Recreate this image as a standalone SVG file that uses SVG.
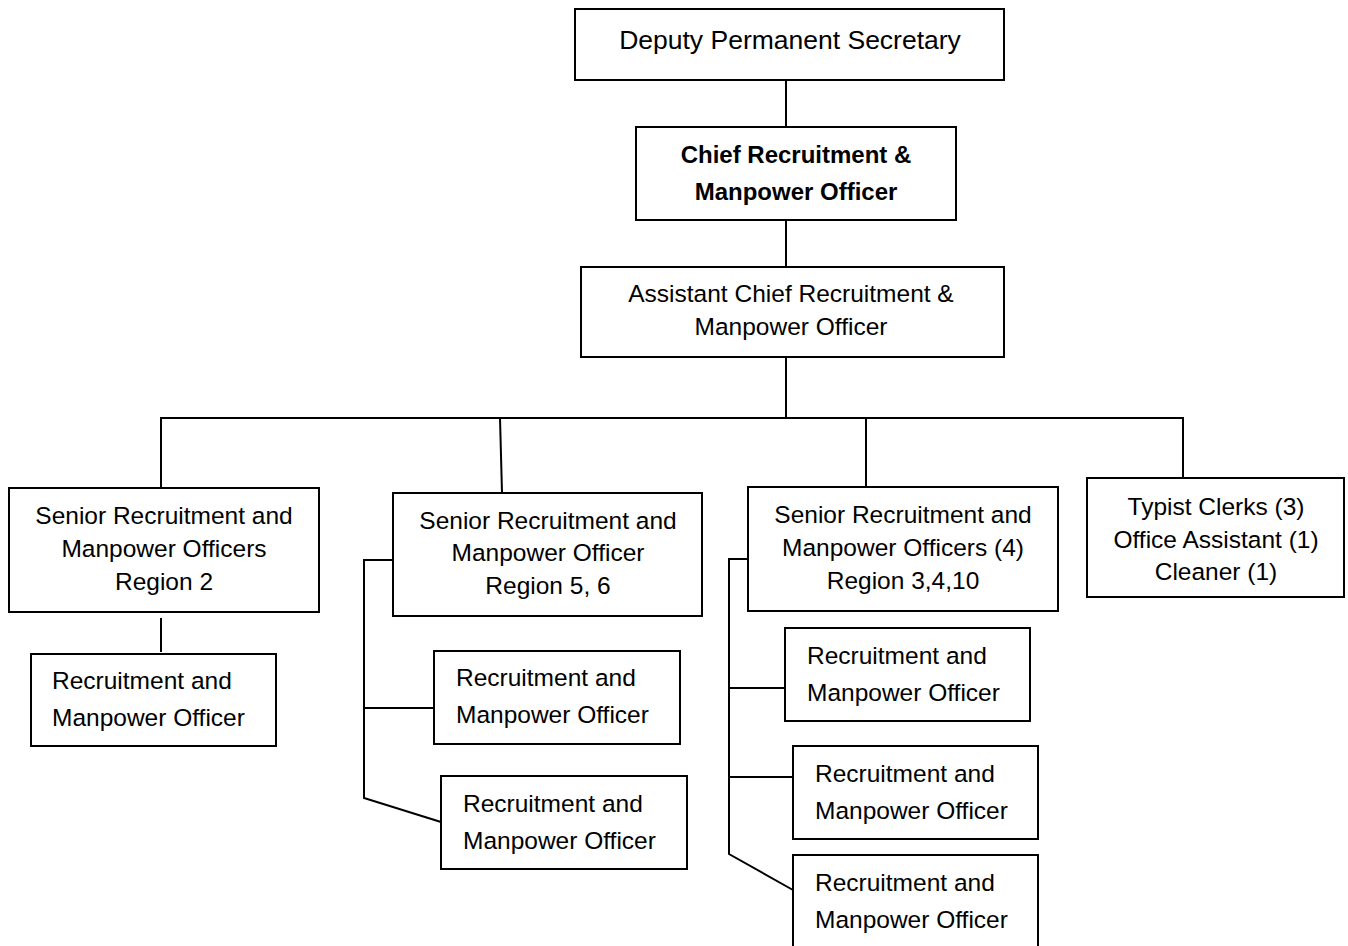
<svg xmlns="http://www.w3.org/2000/svg" width="1348" height="946" viewBox="0 0 1348 946">
  <style>
    .box { fill: #ffffff; stroke: #000000; stroke-width: 2; }
    .link { fill: none; stroke: #000000; stroke-width: 2; }
    text { font-family: "Liberation Sans", Arial, sans-serif; font-size: 24.5px; fill: #000000; }
    .c { text-anchor: middle; }
    .b { font-weight: bold; font-size: 24px; }
    .lg { font-size: 26.5px; }
  </style>
  <rect x="0" y="0" width="1348" height="946" fill="#ffffff"/>

  <g id="connectors">
    <line class="link" x1="786" y1="80" x2="786" y2="127"/>
    <line class="link" x1="786" y1="220" x2="786" y2="267"/>
    <line class="link" x1="786" y1="357" x2="786" y2="418"/>
    <polyline class="link" points="161,488 161,418 1183,418 1183,478"/>
    <line class="link" x1="500" y1="418" x2="502" y2="493"/>
    <line class="link" x1="866" y1="418" x2="866" y2="487"/>
    <line class="link" x1="161" y1="618" x2="161" y2="652"/>
    <polyline class="link" points="393,560 364,560 364,798 441,822"/>
    <line class="link" x1="364" y1="708" x2="434" y2="708"/>
    <polyline class="link" points="748,559 729,559 729,854 793,890"/>
    <line class="link" x1="729" y1="688" x2="785" y2="688"/>
    <line class="link" x1="729" y1="777" x2="793" y2="777"/>
  </g>

  <g id="deputy-permanent-secretary">
    <rect class="box" x="575" y="9" width="429" height="71"/>
    <text class="c lg" x="790" y="49">Deputy Permanent Secretary</text>
  </g>

  <g id="chief-officer">
    <rect class="box" x="636" y="127" width="320" height="93"/>
    <text class="c b" x="796" y="163">Chief Recruitment &amp;</text>
    <text class="c b" x="796" y="200">Manpower Officer</text>
  </g>

  <g id="assistant-chief-officer">
    <rect class="box" x="581" y="267" width="423" height="90"/>
    <text class="c" x="791" y="302">Assistant Chief Recruitment &amp;</text>
    <text class="c" x="791" y="335">Manpower Officer</text>
  </g>

  <g id="senior-region-2">
    <rect class="box" x="9" y="488" width="310" height="124"/>
    <text class="c" x="164" y="524">Senior Recruitment and</text>
    <text class="c" x="164" y="557">Manpower Officers</text>
    <text class="c" x="164" y="590">Region 2</text>
  </g>

  <g id="officer-region-2">
    <rect class="box" x="31" y="654" width="245" height="92"/>
    <text x="52" y="689">Recruitment and</text>
    <text x="52" y="726">Manpower Officer</text>
  </g>

  <g id="senior-region-5-6">
    <rect class="box" x="393" y="493" width="309" height="123"/>
    <text class="c" x="548" y="529">Senior Recruitment and</text>
    <text class="c" x="548" y="561">Manpower Officer</text>
    <text class="c" x="548" y="594">Region 5, 6</text>
  </g>

  <g id="officer-region-5-6-a">
    <rect class="box" x="434" y="651" width="246" height="93"/>
    <text x="456" y="686">Recruitment and</text>
    <text x="456" y="723">Manpower Officer</text>
  </g>

  <g id="officer-region-5-6-b">
    <rect class="box" x="441" y="776" width="246" height="93"/>
    <text x="463" y="812">Recruitment and</text>
    <text x="463" y="849">Manpower Officer</text>
  </g>

  <g id="senior-region-3-4-10">
    <rect class="box" x="748" y="487" width="310" height="124"/>
    <text class="c" x="903" y="523">Senior Recruitment and</text>
    <text class="c" x="903" y="556">Manpower Officers (4)</text>
    <text class="c" x="903" y="589">Region 3,4,10</text>
  </g>

  <g id="officer-region-3-4-10-a">
    <rect class="box" x="785" y="628" width="245" height="93"/>
    <text x="807" y="664">Recruitment and</text>
    <text x="807" y="701">Manpower Officer</text>
  </g>

  <g id="officer-region-3-4-10-b">
    <rect class="box" x="793" y="746" width="245" height="93"/>
    <text x="815" y="782">Recruitment and</text>
    <text x="815" y="819">Manpower Officer</text>
  </g>

  <g id="officer-region-3-4-10-c">
    <rect class="box" x="793" y="855" width="245" height="100"/>
    <text x="815" y="891">Recruitment and</text>
    <text x="815" y="928">Manpower Officer</text>
  </g>

  <g id="support-staff">
    <rect class="box" x="1087" y="478" width="257" height="119"/>
    <text class="c" x="1216" y="515">Typist Clerks (3)</text>
    <text class="c" x="1216" y="548">Office Assistant (1)</text>
    <text class="c" x="1216" y="580">Cleaner (1)</text>
  </g>
</svg>
